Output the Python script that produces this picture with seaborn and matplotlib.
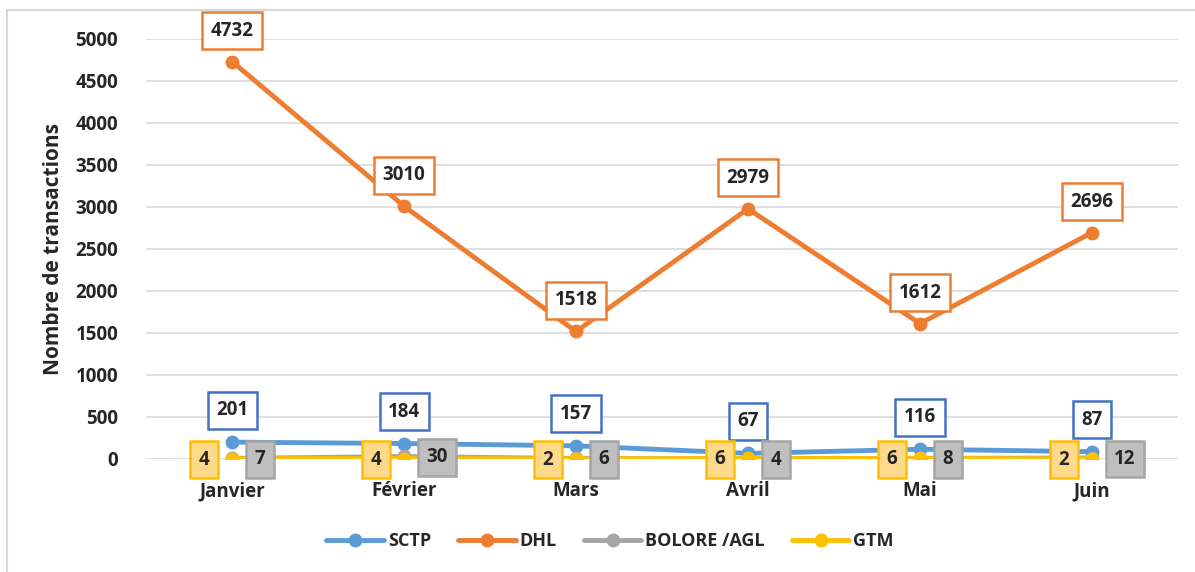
import pandas as pd
import numpy as np
import seaborn as sns
import matplotlib.pyplot as plt
from matplotlib.patches import Rectangle

# ---------------------- Data ----------------------------------------------------
mois = ["Janvier", "Février", "Mars", "Avril", "Mai", "Juin"]
sctp = [201, 184, 157, 67, 116, 87]
dhl = [4732, 3010, 1518, 2979, 1612, 2696]
bolore = [7, 30, 6, 4, 8, 12]
gtm = [4, 4, 2, 6, 6, 2]

series = ["SCTP", "DHL", "BOLORE /AGL", "GTM"]
colors = {"SCTP": "#5B9BD5", "DHL": "#ED7D31", "BOLORE /AGL": "#A5A5A5", "GTM": "#FFC000"}

df = pd.DataFrame({
    "idx": list(range(len(mois))) * 4,
    "valeur": sctp + dhl + bolore + gtm,
    "serie": np.repeat(series, len(mois)),
})

# ---------------------- Plot ----------------------------------------------------
sns.set_style("white")
plt.rcParams['font.family'] = ['Open Sans', 'DejaVu Sans']
plt.rcParams['font.weight'] = 'bold'

fig = plt.figure(figsize=(11.95, 5.72), dpi=100)
ax = fig.add_axes([146 / 1195, 1 - 459 / 572, 1032 / 1195, 420 / 572])

# outer frame of the chart
fig.patches.append(Rectangle((7 / 1195, -0.1), 1.2, 1 - 10 / 572 + 0.1, transform=fig.transFigure,
                             fill=False, edgecolor="#D9D9D9", linewidth=1.5))

sns.lineplot(data=df, x="idx", y="valeur", hue="serie", hue_order=series, palette=colors,
             marker="o", markersize=10, markeredgewidth=0, linewidth=3.5, ax=ax, sort=False)

ax.set_xlim(-0.5, 5.5)
ax.set_ylim(0, 5000)
ax.set_yticks(range(0, 5001, 500))
ax.yaxis.grid(True, color="#D9D9D9", linewidth=1.2)
ax.set_axisbelow(True)
for s in ax.spines.values():
    s.set_visible(False)
ax.set_xticks(range(len(mois)))
ax.set_xticklabels(mois)
ax.tick_params(axis="x", length=0, pad=16, labelsize=13.5)
ax.tick_params(axis="y", length=0, pad=20, labelsize=13.5)
for t in ax.get_xticklabels() + ax.get_yticklabels():
    t.set_fontweight("bold")
ax.set_xlabel("")
ax.set_ylabel("Nombre de transactions", fontsize=15, fontweight="bold", labelpad=8)

# data labels
def label(x, y, txt, dx, dy, face, edge):
    ax.annotate(txt, (x, y), xytext=(dx, dy), textcoords="offset pixels",
                ha="center", va="center", fontsize=13.5, fontweight="bold",
                annotation_clip=False, zorder=6,
                bbox=dict(boxstyle="square,pad=0.45", facecolor=face, edgecolor=edge, linewidth=1.8))

for i in range(len(mois)):
    label(i, dhl[i], str(dhl[i]), 0, 31, "white", "#ED7D31")
    label(i, sctp[i], str(sctp[i]), 0, 32, "white", "#4472C4")
    label(i, gtm[i], str(gtm[i]), -28, -1, "#FFD98A", "#FFC000")
    label(i, bolore[i], str(bolore[i]), 28 + 5 * (len(str(bolore[i])) - 1), -1, "#BFBFBF", "#A5A5A5")

leg = ax.legend(loc="center", bbox_to_anchor=(610 / 1195, 1 - 541 / 572), bbox_transform=fig.transFigure,
                ncol=4, frameon=False, handlelength=3.2, columnspacing=1.5, handletextpad=0.2,
                prop={"weight": "bold", "size": 13})

fig.savefig("out.png", dpi=100)
